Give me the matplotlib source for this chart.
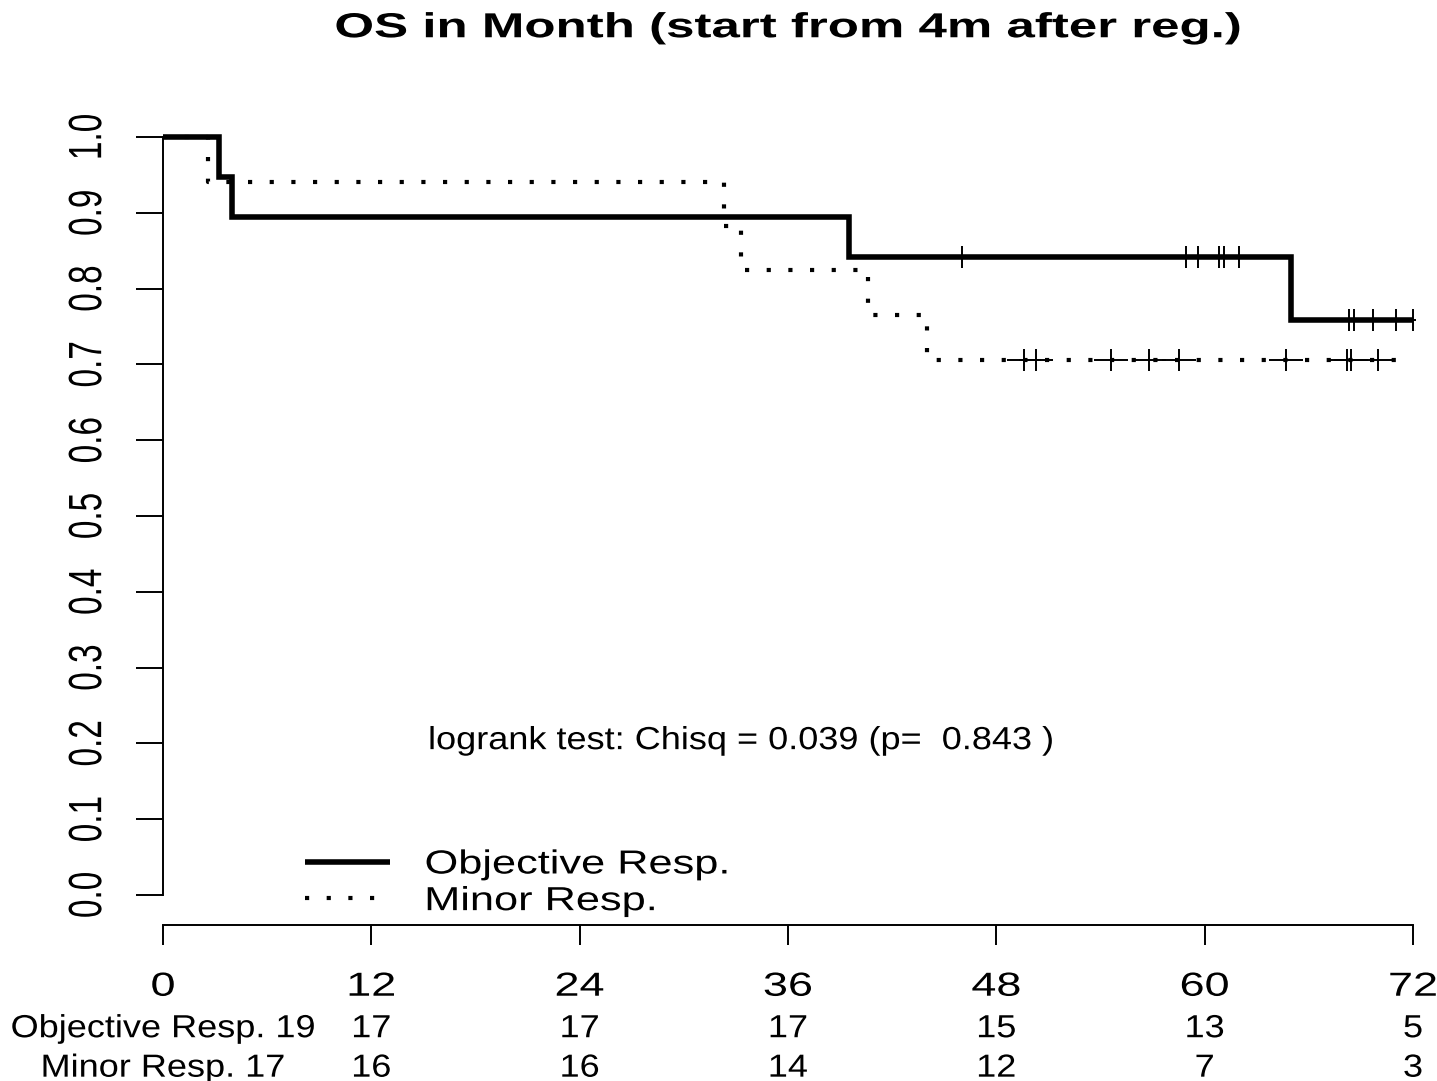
import bisect

import matplotlib
matplotlib.use('Agg')
import matplotlib.pyplot as plt
from matplotlib.patheffects import AbstractPathEffect
from matplotlib.transforms import Affine2D, Bbox, TransformedBbox, blended_transform_factory
from matplotlib.path import Path

plt.rcParams['font.family'] = ['Liberation Sans', 'DejaVu Sans']

# KM steps: month of each step and survival after it
obj_times = [0, 3.2, 4.0, 39.5, 65.0, 72]
obj_surv = [1.0, 0.947, 0.895, 0.842, 0.758, 0.758]
obj_censor = [46.0, 58.9, 59.6, 60.8, 61.1, 62.0, 68.3, 68.6, 69.7, 71.0, 72.0]

min_times = [0, 2.6, 32.3, 33.3, 40.6, 44.0, 72]
min_surv = [1.0, 0.941, 0.882, 0.824, 0.765, 0.706, 0.706]
min_censor = [49.6, 50.3, 54.6, 56.8, 58.5, 64.7, 68.2, 68.4, 70.0]

# number at risk
risk_times = [0, 12, 24, 36, 48, 60, 72]
obj_risk = [19, 17, 17, 17, 15, 13, 5]
min_risk = [17, 16, 16, 14, 12, 7, 3]

groups = ['Objective Resp.', 'Minor Resp.']
y_ticks = [0.0, 0.1, 0.2, 0.3, 0.4, 0.5, 0.6, 0.7, 0.8, 0.9, 1.0]
title = 'OS in Month (start from 4m after reg.)'
logrank = 'logrank test: Chisq = 0.039 (p=  0.843 )'


class Widen(AbstractPathEffect):
    """draw text glyphs stretched sideways, keeping one edge (or the centre) fixed"""

    def __init__(self, sx, anchor='center'):
        super().__init__()
        self.sx = sx
        self.anchor = anchor

    def draw_path(self, renderer, gc, tpath, affine, rgbFace=None):
        box = tpath.get_extents(affine)
        x0 = {'left': box.x0, 'center': 0.5 * (box.x0 + box.x1), 'right': box.x1}[self.anchor]
        stretch = Affine2D().translate(-x0, 0).scale(self.sx, 1).translate(x0, 0)
        renderer.draw_path(gc, tpath, affine + stretch, rgbFace)


def level_at(times, surv, t):
    return surv[bisect.bisect_right(times, t) - 1]


# censor mark: a plus sign, wider than tall
plus = Path([(-0.75, 0), (0.75, 0), (0, -0.5), (0, 0.5)],
            [Path.MOVETO, Path.LINETO, Path.MOVETO, Path.LINETO])

fig = plt.figure(figsize=(14.37, 10.81), dpi=100)
ax = fig.add_axes([0.11343, 0.1440, 0.86987, 0.7573])
ax.set_xlim(0, 72)
ax.set_ylim(-0.04, 1.04)

ax.step(obj_times, obj_surv, where='post', color='black', lw=4.0,
        solid_joinstyle='miter', solid_capstyle='butt', label=groups[0], clip_on=False)
ax.step(min_times, min_surv, where='post', color='black', lw=3.0,
        ls=(0, (1, 4.2)), label=groups[1], clip_on=False)

# censor marks, cut off just past the last month like the curves
mark_clip = TransformedBbox(Bbox([[-1, -0.04], [72.1, 1.04]]), ax.transData)
for times, surv, cens in [(obj_times, obj_surv, obj_censor), (min_times, min_surv, min_censor)]:
    marks, = ax.plot(cens, [level_at(times, surv, t) for t in cens], ls='none',
                     marker=plus, ms=24, mew=1.4, color='black')
    marks.set_clip_box(mark_clip)

# R-style axes: detached, only over the data range
for side in ['top', 'right']:
    ax.spines[side].set_visible(False)
ax.spines['left'].set_bounds(0, 1)
ax.spines['bottom'].set_bounds(0, 72)
for side in ['left', 'bottom']:
    ax.spines[side].set_linewidth(1.4)

ax.set_xticks(risk_times)
ax.set_yticks(y_ticks)
ax.set_yticklabels(['%.1f' % v for v in y_ticks], rotation=90, va='center')
ax.tick_params(axis='x', length=14.4, width=1.4, pad=19, labelsize=24)
ax.tick_params(axis='y', length=19.4, width=1.4, pad=20, labelsize=24)
for lbl in ax.get_xticklabels():
    lbl.set_path_effects([Widen(1.35)])
for lbl in ax.get_yticklabels():
    lbl.set_path_effects([Widen(1.4, 'right')])

ax.set_title(title, fontsize=25, fontweight='bold', pad=50,
             path_effects=[Widen(1.47)])

ax.text(33.3, 0.203, logrank, ha='center', va='center', fontsize=23,
        path_effects=[Widen(1.13)])

leg = ax.legend(loc='lower left', bbox_to_anchor=(0.1136, 0.01), frameon=False,
                fontsize=24, handlelength=2.55, handletextpad=1.05, labelspacing=0.17,
                borderpad=0, borderaxespad=0)
for txt in leg.get_texts():
    txt.set_path_effects([Widen(1.3, 'left')])

# number-at-risk rows under the axis
trans = blended_transform_factory(ax.transData, fig.transFigure)
for name, counts, y in [(groups[0], obj_risk, 0.0405), (groups[1], min_risk, 0.0040)]:
    for i, (t, n) in enumerate(zip(risk_times, counts)):
        label = '%s %d' % (name, n) if i == 0 else str(n)
        ax.text(t, y, label, transform=trans, ha='center', va='baseline', fontsize=23,
                path_effects=[Widen(1.13)], clip_on=False)

fig.savefig('out.png', dpi=100)
